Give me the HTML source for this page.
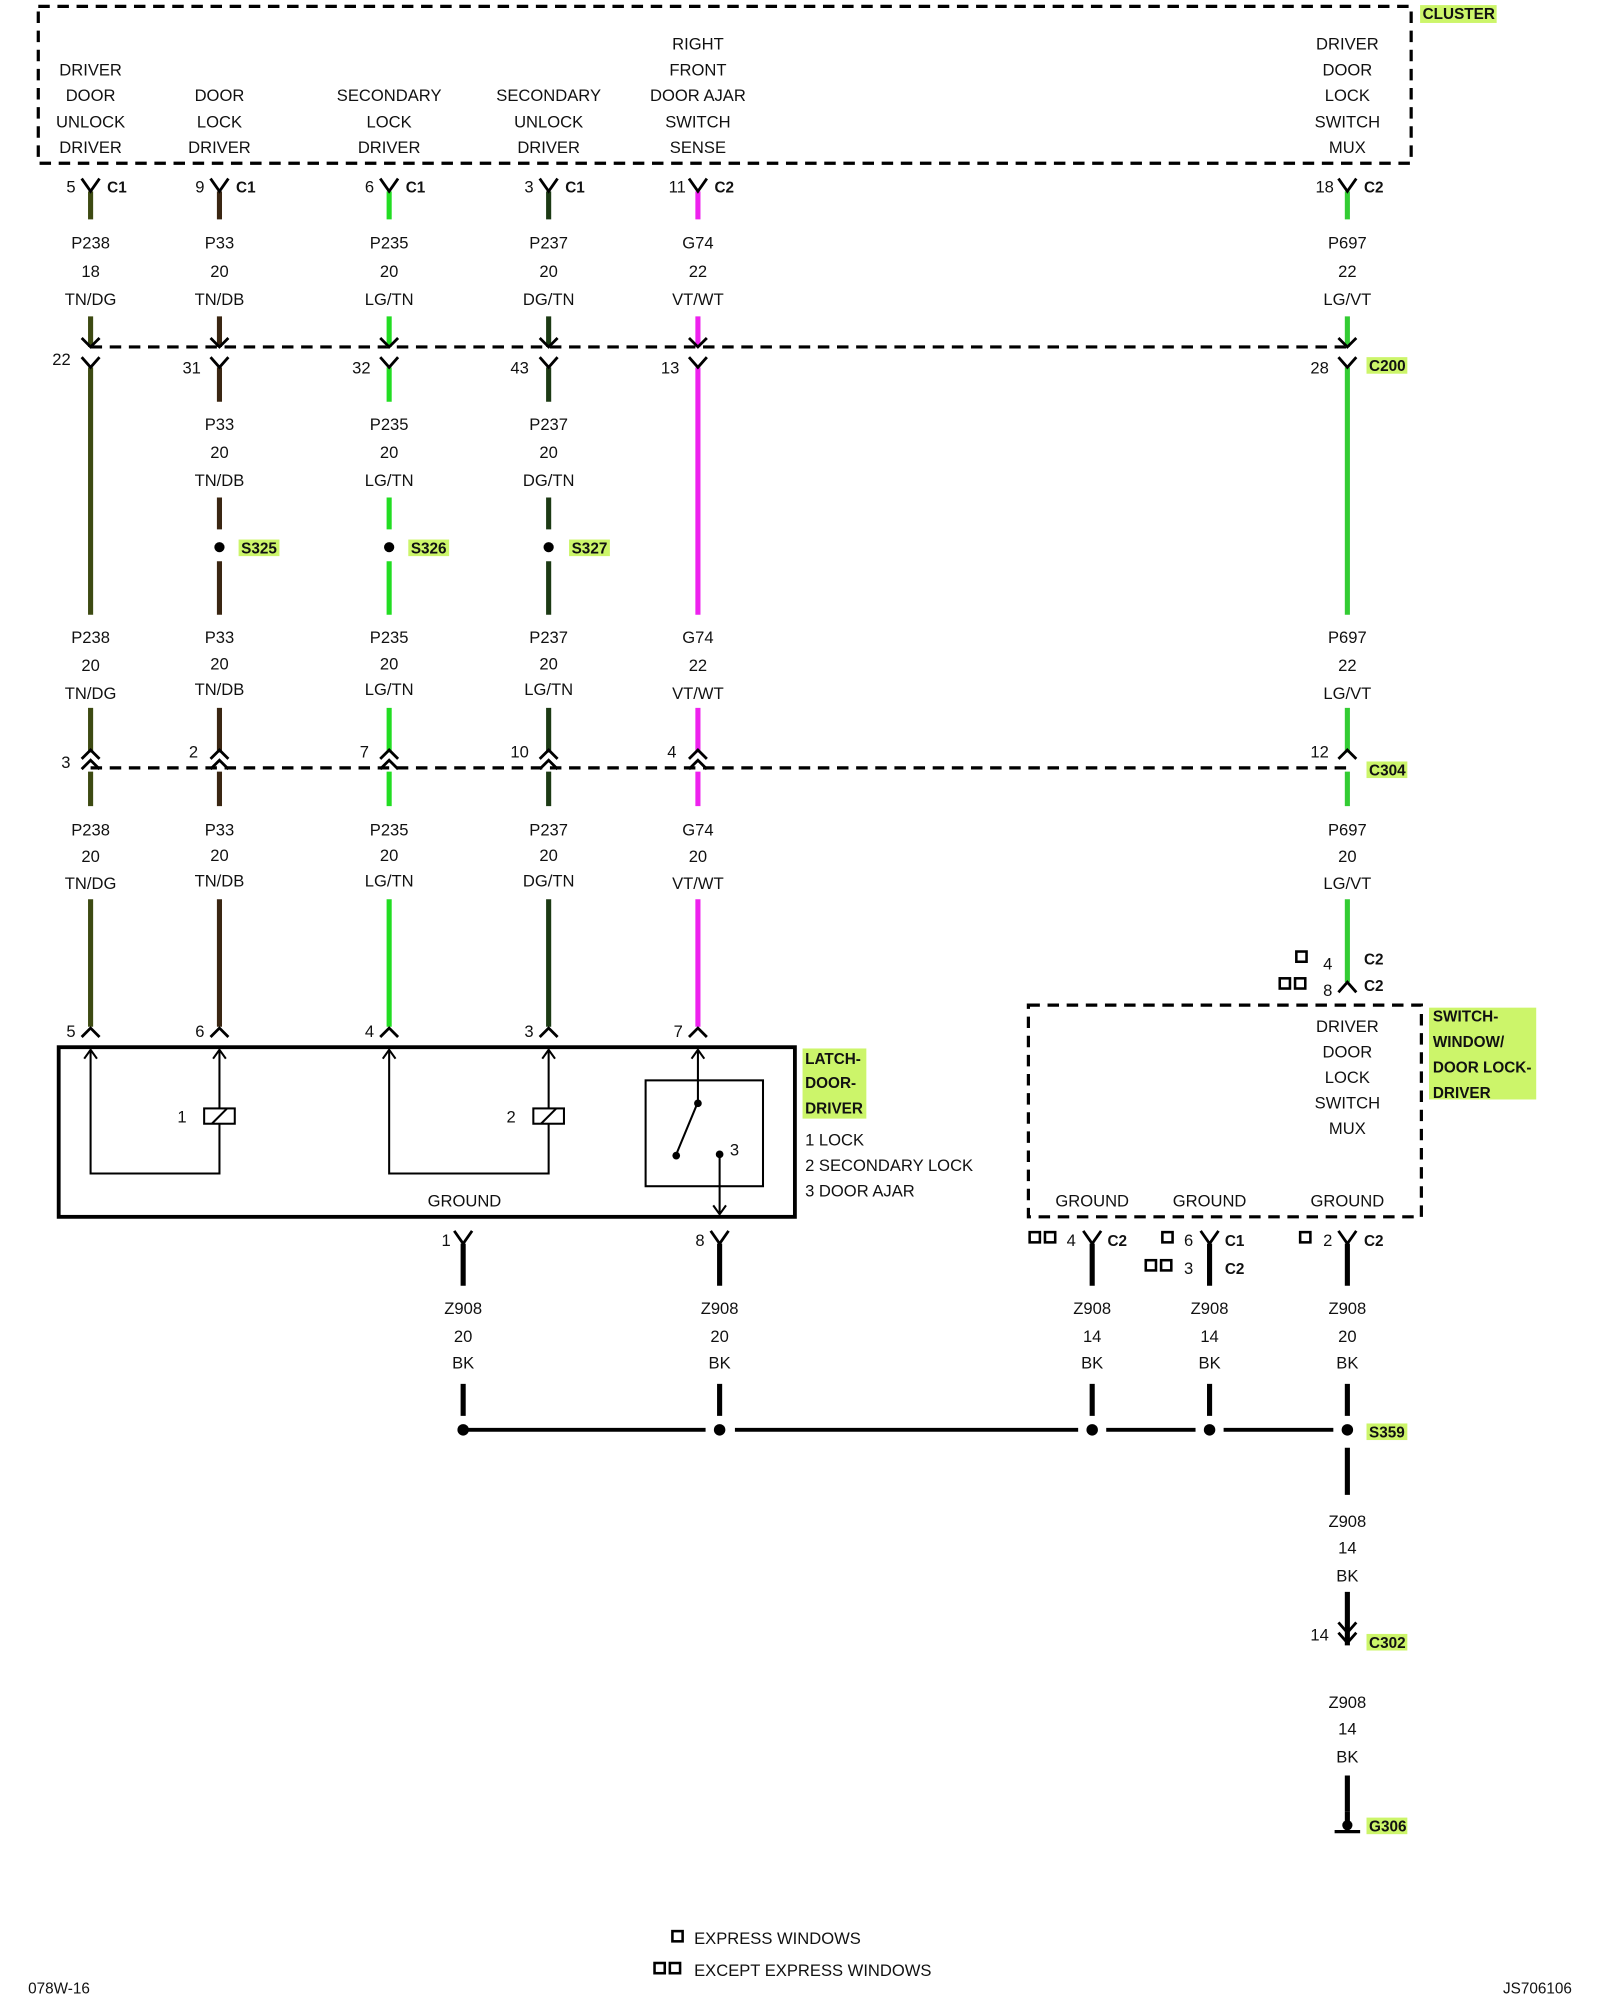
<!DOCTYPE html>
<html><head><meta charset="utf-8"><style>
html,body{margin:0;padding:0;background:#fff;}
svg{display:block;}
text{font-family:"Liberation Sans",sans-serif;font-size:13px;fill:#111;}
.m{text-anchor:middle;}
.b{font-weight:bold;font-size:12px;}
.e{text-anchor:end;}
</style></head><body>
<svg width="1600" height="2000" viewBox="0 0 1254 1568" preserveAspectRatio="none" xmlns="http://www.w3.org/2000/svg">
<g fill="none" stroke="#000" stroke-width="2.5" stroke-dasharray="9,6">
<path d="M30 5 H1106 V128 H30 Z"/>
<path d="M71 272 H1056"/>
<path d="M71 602 H1056"/>
<path d="M806 788 H1114 V954 H806 Z"/>
</g>
<rect x="1113" y="4" width="60" height="14" fill="#ccf56a"/>
<text x="1115" y="15" class="b">CLUSTER</text>
<rect x="1120" y="790" width="84" height="72" fill="#ccf56a"/>
<text x="1123" y="801" class="b">SWITCH-</text><text x="1123" y="821" class="b">WINDOW/</text><text x="1123" y="841" class="b">DOOR LOCK-</text><text x="1123" y="861" class="b">DRIVER</text>
<rect x="629" y="822" width="50" height="55" fill="#ccf56a"/>
<text x="631" y="834" class="b">LATCH-</text><text x="631" y="853" class="b">DOOR-</text><text x="631" y="873" class="b">DRIVER</text>
<text x="631" y="898">1 LOCK</text><text x="631" y="918">2 SECONDARY LOCK</text><text x="631" y="938">3 DOOR AJAR</text>
<g class="m">
<text x="71" y="59" class="m">DRIVER</text><text x="71" y="79" class="m">DOOR</text><text x="71" y="100" class="m">UNLOCK</text><text x="71" y="120" class="m">DRIVER</text>
<text x="172" y="79" class="m">DOOR</text><text x="172" y="100" class="m">LOCK</text><text x="172" y="120" class="m">DRIVER</text>
<text x="305" y="79" class="m">SECONDARY</text><text x="305" y="100" class="m">LOCK</text><text x="305" y="120" class="m">DRIVER</text>
<text x="430" y="79" class="m">SECONDARY</text><text x="430" y="100" class="m">UNLOCK</text><text x="430" y="120" class="m">DRIVER</text>
<text x="547" y="39" class="m">RIGHT</text><text x="547" y="59" class="m">FRONT</text><text x="547" y="79" class="m">DOOR AJAR</text><text x="547" y="100" class="m">SWITCH</text><text x="547" y="120" class="m">SENSE</text>
<text x="1056" y="39" class="m">DRIVER</text><text x="1056" y="59" class="m">DOOR</text><text x="1056" y="79" class="m">LOCK</text><text x="1056" y="100" class="m">SWITCH</text><text x="1056" y="120" class="m">MUX</text>
<text x="1056" y="809" class="m">DRIVER</text><text x="1056" y="829" class="m">DOOR</text><text x="1056" y="849" class="m">LOCK</text><text x="1056" y="869" class="m">SWITCH</text><text x="1056" y="889" class="m">MUX</text>
<text x="856" y="946" class="m">GROUND</text><text x="948" y="946" class="m">GROUND</text><text x="1056" y="946" class="m">GROUND</text>
</g>
<g stroke-width="4" fill="none">
<path stroke="#3d4a12" d="M71 150V172M71 248V272M71 288V482M71 555V590M71 605V632M71 705V805"/>
<path stroke="#3a2612" d="M172 150V172M172 248V272M172 288V315M172 390V415M172 440V482M172 555V590M172 605V632M172 705V805"/>
<path stroke="#22dd22" d="M305 150V172M305 248V272M305 288V315M305 390V415M305 440V482M305 555V590M305 605V632M305 705V805"/>
<path stroke="#1c3a14" d="M430 150V172M430 248V272M430 288V315M430 390V415M430 440V482M430 555V590M430 605V632M430 705V805"/>
<path stroke="#ee22ee" d="M547 150V172M547 248V272M547 288V482M547 555V590M547 605V632M547 705V805"/>
<path stroke="#33cc33" d="M1056 150V172M1056 248V272M1056 288V482M1056 555V590M1056 605V632M1056 705V770"/>
<path stroke="#000" d="M363 975V1008M564 975V1008M856 975V1008M948 975V1008M1056 975V1008M363 1085V1110M564 1085V1110M856 1085V1110M948 1085V1110M1056 1085V1110M1056 1135V1172M1056 1248V1290M1056 1392V1420"/>
</g>
<g stroke="#000" stroke-width="2.2" fill="none">
<path d="M64 140L71 150L78 140M165 140L172 150L179 140M298 140L305 150L312 140M423 140L430 150L437 140M540 140L547 150L554 140M1049 140L1056 150L1063 140"/>
<path d="M64 265L71 272L78 265M165 265L172 272L179 265M298 265L305 272L312 265M423 265L430 272L437 265M540 265L547 272L554 265M1049 265L1056 272L1063 265"/>
<path d="M64 280L71 288L78 280M165 280L172 288L179 280M298 280L305 288L312 280M423 280L430 288L437 280M540 280L547 288L554 280M1049 280L1056 288L1063 280"/>
<path d="M64 595L71 588L78 595M165 595L172 588L179 595M298 595L305 588L312 595M423 595L430 588L437 595M540 595L547 588L554 595M1049 595L1056 588L1063 595"/>
<path d="M64 603L71 596L78 603M165 603L172 596L179 603M298 603L305 596L312 603M423 603L430 596L437 603M540 603L547 596L554 603"/>
<path d="M64 813L71 806L78 813M165 813L172 806L179 813M298 813L305 806L312 813M423 813L430 806L437 813M540 813L547 806L554 813M1049 778L1056 770L1063 778"/>
<path d="M356 965L363 975L370 965M557 965L564 975L571 965M849 965L856 975L863 965M941 965L948 975L955 965M1049 965L1056 975L1063 965"/>
<path d="M1049 1272L1056 1280L1063 1272M1049 1280L1056 1288L1063 1280"/>
</g>
<text x="52" y="151">5</text><text x="84" y="151" class="b">C1</text>
<text x="153" y="151">9</text><text x="185" y="151" class="b">C1</text>
<text x="286" y="151">6</text><text x="318" y="151" class="b">C1</text>
<text x="411" y="151">3</text><text x="443" y="151" class="b">C1</text>
<text x="524" y="151">11</text><text x="560" y="151" class="b">C2</text>
<text x="1031" y="151">18</text><text x="1069" y="151" class="b">C2</text>
<text x="41" y="286">22</text><text x="143" y="293">31</text><text x="276" y="293">32</text><text x="400" y="293">43</text><text x="518" y="293">13</text><text x="1027" y="293">28</text>
<rect x="1071" y="280" width="32" height="13" fill="#ccf56a"/><text x="1073" y="291" class="b">C200</text>
<text x="48" y="602">3</text><text x="148" y="594">2</text><text x="282" y="594">7</text><text x="400" y="594">10</text><text x="523" y="594">4</text><text x="1027" y="594">12</text>
<rect x="1071" y="597" width="32" height="13" fill="#ccf56a"/><text x="1073" y="608" class="b">C304</text>
<text x="52" y="813">5</text><text x="153" y="813">6</text><text x="286" y="813">4</text><text x="411" y="813">3</text><text x="528" y="813">7</text>
<text x="1037" y="760">4</text><text x="1069" y="756" class="b">C2</text>
<text x="1037" y="781">8</text><text x="1069" y="777" class="b">C2</text>
<text x="346" y="977">1</text><text x="545" y="977">8</text>
<text x="836" y="977">4</text><text x="868" y="977" class="b">C2</text>
<text x="928" y="977">6</text><text x="960" y="977" class="b">C1</text>
<text x="928" y="999">3</text><text x="960" y="999" class="b">C2</text>
<text x="1037" y="977">2</text><text x="1069" y="977" class="b">C2</text>
<text x="1027" y="1286">14</text>
<rect x="1071" y="1281" width="32" height="13" fill="#ccf56a"/><text x="1073" y="1292" class="b">C302</text>
<rect x="1071" y="1425" width="32" height="13" fill="#ccf56a"/><text x="1073" y="1436" class="b">G306</text>
<rect x="1071" y="1116" width="32" height="13" fill="#ccf56a"/><text x="1073" y="1127" class="b">S359</text>
<rect x="187" y="423" width="32" height="13" fill="#ccf56a"/><text x="189" y="434" class="b">S325</text>
<rect x="320" y="423" width="32" height="13" fill="#ccf56a"/><text x="322" y="434" class="b">S326</text>
<rect x="446" y="423" width="32" height="13" fill="#ccf56a"/><text x="448" y="434" class="b">S327</text>
<g fill="none" stroke="#000" stroke-width="2">
<rect x="1016" y="746" width="8" height="8"/><rect x="1003" y="767" width="8" height="8"/><rect x="1015" y="767" width="8" height="8"/>
<rect x="807" y="966" width="8" height="8"/><rect x="819" y="966" width="8" height="8"/>
<rect x="911" y="966" width="8" height="8"/><rect x="898" y="988" width="8" height="8"/><rect x="910" y="988" width="8" height="8"/>
<rect x="1019" y="966" width="8" height="8"/>
<rect x="527" y="1514" width="8" height="8"/><rect x="513" y="1539" width="8" height="8"/><rect x="525" y="1539" width="8" height="8"/>
</g>
<g>
<text x="71" y="195" class="m">P238</text><text x="71" y="217" class="m">18</text><text x="71" y="239" class="m">TN/DG</text>
<text x="172" y="195" class="m">P33</text><text x="172" y="217" class="m">20</text><text x="172" y="239" class="m">TN/DB</text>
<text x="305" y="195" class="m">P235</text><text x="305" y="217" class="m">20</text><text x="305" y="239" class="m">LG/TN</text>
<text x="430" y="195" class="m">P237</text><text x="430" y="217" class="m">20</text><text x="430" y="239" class="m">DG/TN</text>
<text x="547" y="195" class="m">G74</text><text x="547" y="217" class="m">22</text><text x="547" y="239" class="m">VT/WT</text>
<text x="1056" y="195" class="m">P697</text><text x="1056" y="217" class="m">22</text><text x="1056" y="239" class="m">LG/VT</text>
<text x="172" y="337" class="m">P33</text><text x="172" y="359" class="m">20</text><text x="172" y="381" class="m">TN/DB</text>
<text x="305" y="337" class="m">P235</text><text x="305" y="359" class="m">20</text><text x="305" y="381" class="m">LG/TN</text>
<text x="430" y="337" class="m">P237</text><text x="430" y="359" class="m">20</text><text x="430" y="381" class="m">DG/TN</text>
<text x="71" y="504" class="m">P238</text><text x="71" y="526" class="m">20</text><text x="71" y="548" class="m">TN/DG</text>
<text x="172" y="504" class="m">P33</text><text x="172" y="525" class="m">20</text><text x="172" y="545" class="m">TN/DB</text>
<text x="305" y="504" class="m">P235</text><text x="305" y="525" class="m">20</text><text x="305" y="545" class="m">LG/TN</text>
<text x="430" y="504" class="m">P237</text><text x="430" y="525" class="m">20</text><text x="430" y="545" class="m">LG/TN</text>
<text x="547" y="504" class="m">G74</text><text x="547" y="526" class="m">22</text><text x="547" y="548" class="m">VT/WT</text>
<text x="1056" y="504" class="m">P697</text><text x="1056" y="526" class="m">22</text><text x="1056" y="548" class="m">LG/VT</text>
<text x="71" y="655" class="m">P238</text><text x="71" y="676" class="m">20</text><text x="71" y="697" class="m">TN/DG</text>
<text x="172" y="655" class="m">P33</text><text x="172" y="675" class="m">20</text><text x="172" y="695" class="m">TN/DB</text>
<text x="305" y="655" class="m">P235</text><text x="305" y="675" class="m">20</text><text x="305" y="695" class="m">LG/TN</text>
<text x="430" y="655" class="m">P237</text><text x="430" y="675" class="m">20</text><text x="430" y="695" class="m">DG/TN</text>
<text x="547" y="655" class="m">G74</text><text x="547" y="676" class="m">20</text><text x="547" y="697" class="m">VT/WT</text>
<text x="1056" y="655" class="m">P697</text><text x="1056" y="676" class="m">20</text><text x="1056" y="697" class="m">LG/VT</text>
<text x="363" y="1030" class="m">Z908</text><text x="363" y="1052" class="m">20</text><text x="363" y="1073" class="m">BK</text>
<text x="564" y="1030" class="m">Z908</text><text x="564" y="1052" class="m">20</text><text x="564" y="1073" class="m">BK</text>
<text x="856" y="1030" class="m">Z908</text><text x="856" y="1052" class="m">14</text><text x="856" y="1073" class="m">BK</text>
<text x="948" y="1030" class="m">Z908</text><text x="948" y="1052" class="m">14</text><text x="948" y="1073" class="m">BK</text>
<text x="1056" y="1030" class="m">Z908</text><text x="1056" y="1052" class="m">20</text><text x="1056" y="1073" class="m">BK</text>
<text x="1056" y="1197" class="m">Z908</text><text x="1056" y="1218" class="m">14</text><text x="1056" y="1240" class="m">BK</text>
<text x="1056" y="1339" class="m">Z908</text><text x="1056" y="1360" class="m">14</text><text x="1056" y="1382" class="m">BK</text>
</g>
<g fill="#000">
<circle cx="172" cy="429" r="4"/><circle cx="305" cy="429" r="4"/><circle cx="430" cy="429" r="4"/>
<circle cx="363" cy="1121" r="4.5"/><circle cx="564" cy="1121" r="4.5"/><circle cx="856" cy="1121" r="4.5"/><circle cx="948" cy="1121" r="4.5"/><circle cx="1056" cy="1121" r="4.5"/>
</g>
<path d="M363 1121H553M576 1121H845M867 1121H937M959 1121H1045" stroke="#000" stroke-width="3"/>
<path d="M1056 1420V1432" stroke="#000" stroke-width="4"/>
<circle cx="1056" cy="1431" r="4" fill="#000"/>
<path d="M1046 1436H1066" stroke="#000" stroke-width="2.5"/>
<rect x="46" y="821" width="577" height="133" fill="none" stroke="#000" stroke-width="3"/>
<g fill="none" stroke="#000" stroke-width="1.6">
<path d="M71 823V920H172V823M305 823V920H430V823"/>
<path d="M66 830L71 823L76 830M167 830L172 823L177 830M300 830L305 823L310 830M425 830L430 823L435 830M542 830L547 823L552 830"/>
<rect x="160" y="869" width="24" height="12" fill="#fff"/><path d="M166 881L178 869"/>
<rect x="418" y="869" width="24" height="12" fill="#fff"/><path d="M424 881L436 869"/>
<rect x="506" y="847" width="92" height="83"/>
<path d="M547 823V864L530 905M564 905V952M559 945L564 952L569 945"/>
</g>
<circle cx="547" cy="865" r="3" fill="#000"/><circle cx="530" cy="906" r="3" fill="#000"/><circle cx="564" cy="905" r="3" fill="#000"/>
<text x="139" y="880">1</text><text x="397" y="880">2</text><text x="572" y="906">3</text>
<text x="364" y="946" class="m">GROUND</text>
<text x="544" y="1524">EXPRESS WINDOWS</text>
<text x="544" y="1549">EXCEPT EXPRESS WINDOWS</text>
<text x="22" y="1563" style="font-size:12px">078W-16</text>
<text x="1232" y="1563" class="e" style="font-size:12px">JS706106</text>
</svg>
</body></html>
